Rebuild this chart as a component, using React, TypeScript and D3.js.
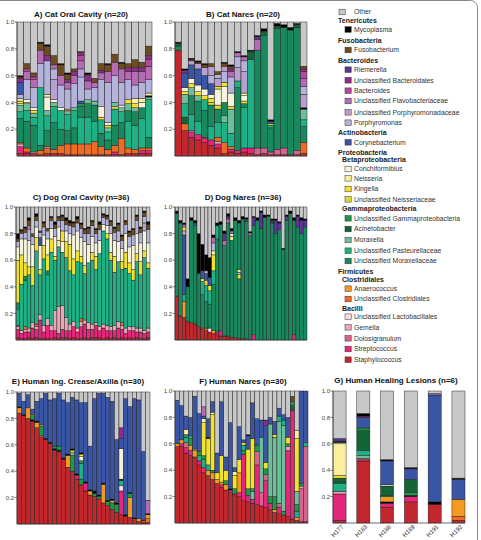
import React from "react";
import * as d3 from "d3";

type Raw = (string | number)[];

const COLOR: Record<string, string> = {
  ot: "#c8c8c8", my: "#000000", fu: "#6f4c1f", ri: "#5b3590", ub: "#8e2c8e", ba: "#b5479f",
  fl: "#b46db5", pp: "#b99fd0", po: "#b3b3dc", cy: "#3b55a5", co: "#f6f3dd", ne: "#fcef9c",
  ki: "#f2e22e", un: "#d3dc3a", ug: "#1a9a4a", ac: "#136437", mo: "#6dbf9a", up: "#1fb186",
  um: "#17895d", an: "#f49a20", uc: "#ee6b25", ul: "#f9dde6", ge: "#eea5b6", do: "#d6648e",
  sp: "#e6267a", st: "#c1272d",
};

// legend: h = header, s = sub-header, i = item
const legendRows: [string, string, string?][] = [
  ["i", "Other", "ot"], ["h", "Tenericutes"], ["i", "Mycoplasma", "my"],
  ["h", "Fusobacteria"], ["i", "Fusobacterium", "fu"],
  ["h", "Bacteroides"], ["i", "Riemerella", "ri"], ["i", "Unclassified Bacteroidales", "ub"],
  ["i", "Bacteroides", "ba"], ["i", "Unclassified Flavobacteriaceae", "fl"],
  ["i", "Unclassified Porphyromonadaceae", "pp"], ["i", "Porphyromonas", "po"],
  ["h", "Actinobacteria"], ["i", "Corynebacterium", "cy"],
  ["h", "Proteobacteria"], ["s", "Betaproteobacteria"], ["i", "Conchiformibius", "co"],
  ["i", "Neisseria", "ne"], ["i", "Kingella", "ki"], ["i", "Unclassified Neisseriaceae", "un"],
  ["s", "Gammaproteobacteria"], ["i", "Unclassified Gammaproteobacteria", "ug"],
  ["i", "Acinetobacter", "ac"], ["i", "Moraxella", "mo"], ["i", "Unclassified Pasteurellaceae", "up"],
  ["i", "Unclassified Moraxellaceae", "um"],
  ["h", "Firmicutes"], ["s", "Clostridiales"], ["i", "Anaerococcus", "an"],
  ["i", "Unclassified Clostridiales", "uc"], ["s", "Bacilli"],
  ["i", "Unclassified Lactobacillales", "ul"], ["i", "Gemella", "ge"], ["i", "Dolosigranulum", "do"],
  ["i", "Streptococcus", "sp"], ["i", "Staphylococcus", "st"],
];

const tickValues = [0.2, 0.4, 0.6, 0.8, 1.0];

// Each sample: taxon key / relative abundance pairs, bottom to top. Remainder = Other.
const catOral: Raw[] = [
  ["st",.02,"sp",.05,"ge",.02,"uc",.01,"um",.18,"up",.05,"mo",.05,"co",.01,"ki",.02,"ne",.02,"po",.03,"cy",.09,"ub",.03,"fu",.01,"my",.01],
  ["st",.02,"sp",.01,"uc",.03,"um",.2,"up",.08,"mo",.05,"ne",.01,"co",.02,"po",.15,"fl",.06,"ba",.02,"fu",.04],
  ["st",.02,"ge",.01,"um",.2,"up",.06,"mo",.03,"ki",.02,"co",.02,"po",.15,"fl",.06,"ba",.02,"fu",.03],
  ["st",.01,"uc",.03,"um",.04,"up",.43,"po",.18,"fl",.1,"fu",.05,"my",.01],
  ["st",.02,"uc",.04,"ge",.01,"um",.12,"up",.11,"mo",.04,"co",.1,"ne",.02,"po",.25,"ub",.04,"fu",.07,"my",.01],
  ["st",.02,"uc",.03,"um",.2,"up",.12,"mo",.03,"co",.02,"pp",.15,"po",.08,"fl",.03,"fu",.07],
  ["st",.02,"uc",.06,"um",.12,"up",.14,"co",.02,"po",.17,"fl",.07,"fu",.08,"my",.01],
  ["st",.01,"uc",.08,"um",.1,"up",.12,"mo",.02,"co",.01,"ki",.01,"po",.15,"fl",.05,"ub",.02,"fu",.04,"my",.01],
  ["st",.01,"uc",.08,"um",.12,"up",.13,"mo",.02,"po",.18,"fl",.06,"ub",.03,"fu",.02],
  ["st",.01,"uc",.08,"up",.2,"um",.08,"ug",.02,"cy",.02,"po",.18,"pp",.06,"fl",.06,"ba",.04,"ub",.02,"fu",.01],
  ["st",.01,"uc",.08,"up",.2,"um",.1,"mo",.03,"po",.08,"fl",.06,"ub",.04,"fu",.01,"my",.01],
  ["st",.01,"uc",.1,"up",.15,"um",.12,"mo",.03,"po",.1,"fl",.04,"fu",.03],
  ["st",.01,"uc",.06,"um",.1,"up",.1,"ki",.02,"co",.08,"po",.2,"fl",.05,"ub",.02,"fu",.05],
  ["st",.01,"uc",.04,"um",.07,"up",.06,"mo",.03,"ki",.02,"co",.02,"po",.3,"fl",.08,"fu",.05,"my",.01],
  ["st",.01,"sp",.02,"uc",.05,"um",.15,"up",.12,"un",.02,"mo",.03,"po",.2,"fl",.1,"fu",.06],
  ["st",.01,"uc",.12,"um",.12,"up",.08,"mo",.03,"co",.02,"po",.17,"fl",.1,"fu",.04,"my",.01],
  ["st",.02,"uc",.04,"up",.2,"um",.08,"mo",.05,"ki",.03,"po",.15,"fl",.06,"ub",.03,"fu",.03],
  ["st",.02,"uc",.03,"up",.18,"um",.1,"mo",.03,"ki",.03,"ne",.04,"po",.1,"fl",.1,"ub",.03,"fu",.06],
  ["st",.02,"sp",.02,"uc",.02,"up",.22,"um",.08,"co",.04,"ne",.03,"po",.12,"fl",.08,"ub",.03,"fu",.04],
  ["st",.02,"sp",.02,"uc",.02,"um",.08,"up",.28,"mo",.02,"my",.01,"ne",.02,"po",.1,"fl",.1,"ba",.05,"ub",.03,"fu",.07],
];

const catNares: Raw[] = [
  ["st",.79,"um",.03,"ac",.02,"my",.01],
  ["st",.19,"uc",.05,"ac",.05,"up",.1,"mo",.07,"ki",.02,"co",.03,"cy",.11,"ub",.02,"my",.01],
  ["st",.14,"sp",.04,"ge",.01,"up",.12,"um",.14,"mo",.06,"ki",.03,"co",.04,"cy",.1,"pp",.03,"fu",.01,"my",.01],
  ["st",.12,"sp",.04,"up",.1,"um",.15,"mo",.04,"ki",.03,"co",.05,"cy",.12,"pp",.04,"fu",.01,"my",.01],
  ["st",.1,"sp",.03,"uc",.01,"um",.2,"up",.08,"ki",.03,"co",.05,"cy",.1,"pp",.06,"fu",.02,"my",.01],
  ["st",.08,"sp",.04,"up",.1,"um",.16,"un",.02,"ki",.03,"co",.03,"cy",.08,"po",.06,"pp",.07,"fu",.02],
  ["st",.06,"sp",.03,"ge",.02,"uc",.03,"up",.11,"um",.1,"un",.03,"co",.12,"ki",.02,"pp",.06,"po",.03,"fu",.02],
  ["st",.02,"uc",.08,"up",.15,"mo",.05,"um",.1,"co",.12,"ki",.03,"po",.08,"pp",.04,"fu",.02,"my",.01],
  ["st",.03,"sp",.02,"uc",.02,"up",.1,"mo",.18,"ki",.02,"co",.1,"po",.12,"fl",.04,"ub",.02,"fu",.02,"my",.01],
  ["st",.02,"sp",.02,"um",.47,"up",.05,"pp",.1,"po",.08,"fl",.03,"my",.01],
  ["st",.03,"sp",.03,"up",.3,"um",.03,"ki",.02,"co",.04,"ne",.02,"pp",.16,"po",.08,"fl",.03,"my",.01],
  ["st",.02,"sp",.04,"up",.66,"ac",.06,"my",.01],
  ["st",.01,"do",.05,"um",.73,"fl",.08,"ri",.02,"my",.01],
  ["st",.02,"do",.04,"um",.84,"ac",.03,"my",.02],
  ["st",.01,"do",.02,"um",.18,"up",.02,"ki",.01,"cy",.02,"my",.01],
  ["st",.01,"do",.04,"um",.9,"ac",.02,"my",.02],
  ["st",.01,"do",.05,"um",.9,"my",.02],
  ["st",.01,"um",.93,"my",.02],
  ["st",.01,"do",.03,"um",.92,"ac",.02,"my",.01],
  ["st",.02,"uc",.08,"um",.12,"up",.05,"mo",.08,"my",.01,"pp",.1,"po",.06,"fl",.06,"ba",.05,"ub",.02,"fu",.02],
];

const dogOral: Raw[] = [
  ["st",.02,"sp",.06,"ge",.02,"uc",.01,"up",.12,"um",.05,"ki",.32,"co",.1,"po",.04,"fu",.02,"my",.04],
  ["st",.01,"sp",.04,"ge",.02,"up",.35,"ki",.22,"co",.12,"po",.04,"fu",.02,"my",.01],
  ["st",.01,"sp",.05,"ge",.02,"uc",.02,"up",.35,"um",.03,"ki",.1,"co",.18,"po",.05,"fu",.03,"my",.01],
  ["st",.02,"sp",.04,"ge",.03,"up",.4,"ki",.06,"co",.2,"po",.08,"fl",.03,"fu",.04,"my",.02],
  ["st",.01,"sp",.08,"ge",.04,"up",.28,"ki",.14,"co",.17,"po",.06,"fu",.02],
  ["st",.02,"sp",.06,"ge",.02,"uc",.02,"up",.55,"ki",.1,"co",.08,"po",.05,"fu",.03,"my",.02],
  ["st",.01,"sp",.14,"ge",.04,"up",.3,"ki",.04,"co",.18,"cy",.06,"po",.04,"fu",.01],
  ["st",.01,"sp",.05,"ge",.05,"up",.5,"ki",.1,"co",.08,"po",.06,"fu",.03,"my",.01],
  ["st",.01,"sp",.1,"ge",.05,"up",.33,"um",.03,"ki",.12,"co",.12,"po",.06,"fu",.02],
  ["st",.01,"sp",.06,"ge",.04,"up",.55,"ki",.1,"co",.08,"po",.06,"fu",.02,"my",.01],
  ["st",.02,"sp",.05,"ge",.15,"up",.38,"ki",.03,"co",.15,"po",.06,"fu",.03,"my",.02],
  ["st",.01,"sp",.04,"ge",.2,"up",.45,"ne",.05,"co",.1,"po",.05,"fu",.02,"my",.01],
  ["st",.02,"sp",.06,"ge",.18,"up",.4,"co",.08,"ki",.08,"po",.08,"fu",.03,"my",.01],
  ["st",.02,"sp",.05,"ge",.1,"up",.45,"ki",.12,"co",.08,"po",.05,"fu",.03,"my",.02],
  ["st",.01,"sp",.06,"ge",.05,"up",.4,"ki",.2,"co",.08,"po",.06,"fu",.02,"my",.02],
  ["st",.02,"sp",.08,"ge",.04,"up",.35,"ki",.12,"co",.18,"po",.06,"fu",.03,"my",.01],
  ["st",.01,"sp",.05,"ge",.03,"up",.5,"ki",.08,"co",.15,"po",.06,"fu",.03,"my",.02],
  ["st",.01,"sp",.09,"ge",.04,"uc",.02,"up",.42,"ki",.05,"co",.14,"po",.07,"fu",.03,"my",.01],
  ["st",.02,"sp",.1,"ge",.03,"up",.35,"ki",.06,"co",.18,"po",.06,"fu",.03,"my",.01],
  ["st",.01,"sp",.07,"ge",.05,"up",.45,"co",.14,"po",.08,"fu",.04,"my",.01],
  ["st",.02,"sp",.06,"ge",.04,"up",.48,"ki",.06,"co",.12,"po",.08,"fu",.03,"my",.01],
  ["st",.02,"sp",.09,"ge",.02,"up",.4,"ki",.1,"co",.1,"po",.07,"fu",.03,"my",.01],
  ["st",.02,"sp",.05,"ge",.03,"up",.55,"co",.1,"po",.08,"fu",.04,"my",.02],
  ["st",.01,"sp",.08,"ge",.03,"up",.7,"co",.05,"po",.05,"fu",.02,"my",.01],
  ["st",.02,"sp",.05,"ge",.04,"up",.65,"ki",.04,"co",.06,"po",.05,"fu",.02,"my",.01],
  ["st",.01,"sp",.06,"ge",.03,"up",.5,"ki",.06,"co",.14,"po",.06,"fu",.03,"my",.01],
  ["st",.02,"sp",.05,"ge",.04,"up",.4,"ki",.12,"co",.12,"po",.06,"fu",.03,"my",.01],
  ["st",.01,"sp",.08,"ge",.05,"up",.45,"co",.15,"po",.08,"fu",.05,"my",.01],
  ["st",.02,"sp",.06,"ge",.03,"uc",.02,"up",.4,"ki",.06,"co",.1,"po",.06,"fu",.03,"my",.01],
  ["st",.01,"sp",.04,"ge",.04,"up",.45,"ki",.12,"co",.14,"po",.07,"fu",.02,"my",.01],
  ["st",.02,"sp",.05,"ge",.03,"up",.4,"ki",.08,"co",.12,"po",.08,"fu",.03,"my",.01],
  ["st",.01,"sp",.06,"ge",.03,"up",.35,"ki",.08,"co",.18,"po",.08,"fu",.04,"my",.01],
  ["st",.02,"sp",.04,"ge",.03,"up",.5,"ki",.06,"co",.15,"po",.1,"fu",.03,"my",.01],
  ["st",.01,"sp",.05,"ge",.03,"up",.4,"ki",.1,"co",.14,"po",.08,"fu",.03,"my",.01],
  ["st",.01,"sp",.04,"ge",.02,"up",.55,"ki",.05,"co",.15,"pp",.06,"po",.05,"fu",.03,"my",.01],
  ["st",.02,"sp",.04,"ge",.03,"up",.45,"ki",.04,"co",.15,"po",.1,"fu",.04,"my",.02],
];

const dogNares: Raw[] = [
  ["st",.33,"um",.62,"my",.02],
  ["st",.18,"um",.7,"my",.02],
  ["st",.17,"an",.12,"up",.05,"cy",.45,"po",.03,"ki",.03,"fl",.02,"my",.01],
  ["st",.14,"um",.26,"my",.06],
  ["st",.13,"um",.77,"my",.02],
  ["st",.12,"um",.74,"cy",.02,"my",.02],
  ["st",.1,"um",.4,"my",.3],
  ["st",.08,"uc",.01,"um",.25,"up",.1,"ki",.02,"cy",.06,"my",.2],
  ["st",.07,"uc",.02,"um",.2,"up",.12,"un",.04,"cy",.05,"po",.02,"my",.12],
  ["st",.06,"ul",.03,"um",.18,"up",.1,"ki",.04,"cy",.06,"my",.15],
  ["st",.05,"an",.02,"um",.35,"up",.1,"ki",.12,"ne",.03,"po",.06,"fl",.04,"my",.02],
  ["st",.04,"sp",.02,"um",.7,"up",.1,"my",.02],
  ["st",.03,"sp",.04,"um",.8,"my",.02],
  ["st",.03,"um",.68,"fl",.04,"ri",.05,"my",.02],
  ["st",.03,"um",.85,"fl",.03,"ri",.02,"my",.02],
  ["st",.02,"um",.73,"ne",.03,"co",.02,"fl",.02,"my",.02],
  ["st",.02,"um",.88,"my",.02],
  ["st",.01,"um",.45,"ki",.03,"po",.02,"ne",.02,"um",.35,"my",.02],
  ["st",.01,"um",.9,"my",.02],
  ["st",.01,"um",.88,"ac",.02,"my",.01],
  ["st",.005,"um",.78,"fl",.02,"my",.01],
  ["sp",.04,"um",.82,"ri",.06,"my",.01],
  ["um",.9,"my",.02],
  ["um",.84,"ri",.12,"my",.01],
  ["um",.92,"my",.02],
  ["um",.93,"my",.01],
  ["um",.88,"ac",.02,"my",.01],
  ["um",.8,"ri",.1,"my",.01],
  ["um",.83,"ri",.05,"my",.01],
  ["um",.68,"my",.01],
  ["um",.9,"ri",.03,"my",.01],
  ["um",.95,"my",.02],
  ["sp",.04,"um",.86,"my",.02],
  ["um",.85,"ri",.08,"my",.01],
  ["um",.8,"ri",.1,"my",.02],
  ["um",.85,"ri",.05,"my",.01],
];

const humanCrease: Raw[] = [
  ["st",.84,"an",.04,"my",.01,"cy",.1],
  ["st",.82,"my",.01,"cy",.1],
  ["st",.8,"an",.08,"cy",.1],
  ["st",.78,"my",.01,"ug",.03,"ki",.01,"cy",.04],
  ["st",.73,"an",.04,"my",.01,"cy",.15],
  ["st",.66,"an",.01,"ug",.07,"ki",.01,"cy",.2],
  ["st",.64,"my",.01,"cy",.34],
  ["st",.61,"my",.01,"cy",.32],
  ["st",.56,"my",.01,"ug",.02,"cy",.36],
  ["st",.54,"sp",.01,"my",.01,"ug",.03,"cy",.4],
  ["st",.49,"my",.01,"cy",.44],
  ["st",.43,"an",.09,"my",.01,"cy",.39],
  ["st",.4,"ug",.12,"mo",.02,"ki",.02,"my",.01,"cy",.39],
  ["st",.34,"sp",.03,"my",.01,"cy",.56],
  ["st",.29,"sp",.01,"ug",.04,"up",.12,"ug",.02,"co",.03,"ki",.02,"my",.01,"cy",.38],
  ["st",.25,"sp",.06,"my",.01,"cy",.6],
  ["st",.22,"an",.03,"my",.01,"cy",.33],
  ["st",.21,"ug",.02,"my",.02,"cy",.7],
  ["st",.19,"ug",.02,"my",.01,"cy",.77],
  ["st",.16,"an",.14,"my",.01,"cy",.68],
  ["st",.14,"ug",.03,"my",.01,"cy",.78],
  ["st",.11,"ug",.05,"an",.02,"my",.01,"cy",.74],
  ["st",.09,"ug",.06,"my",.01,"cy",.48],
  ["st",.07,"sp",.18,"ul",.04,"up",.04,"my",.01,"co",.23,"cy",.08,"ub",.08],
  ["st",.06,"my",.01,"cy",.88],
  ["st",.05,"an",.15,"ug",.03,"my",.01,"cy",.65],
  ["st",.04,"my",.01,"cy",.9],
  ["st",.02,"an",.02,"cy",.9],
  ["st",.015,"an",.01,"my",.005,"cy",.52],
  ["st",.01,"uc",.03,"an",.03,"my",.01,"fl",.1],
];

const humanNares: Raw[] = [
  ["st",.58,"an",.02,"cy",.33],
  ["st",.58,"sp",.02,"an",.03,"cy",.26],
  ["st",.53,"sp",.04,"do",.04,"up",.04,"ug",.02,"ne",.04,"cy",.1],
  ["st",.51,"sp",.04,"an",.04,"ug",.05,"up",.02,"cy",.14],
  ["st",.5,"an",.05,"ki",.01,"cy",.4],
  ["st",.44,"sp",.03,"up",.04,"ug",.03,"cy",.29],
  ["st",.38,"sp",.04,"up",.06,"ug",.03,"ki",.25,"ne",.03,"cy",.02,"fl",.07],
  ["st",.36,"an",.04,"up",.04,"ki",.2,"my",.01,"cy",.14],
  ["st",.33,"an",.05,"ug",.02,"ki",.42,"ne",.02,"cy",.08],
  ["st",.3,"an",.03,"ki",.05,"cy",.15],
  ["st",.27,"sp",.02,"an",.02,"ki",.2,"cy",.41],
  ["st",.25,"an",.04,"ug",.03,"ki",.08,"cy",.1],
  ["st",.23,"sp",.02,"my",.01,"cy",.5],
  ["st",.22,"ug",.04,"ki",.1,"ne",.03,"cy",.03],
  ["st",.2,"sp",.03,"an",.15,"ki",.1,"cy",.25],
  ["st",.17,"sp",.35,"ug",.03,"up",.04,"ki",.02,"cy",.02],
  ["st",.16,"sp",.05,"ug",.05,"ki",.3,"cy",.1,"my",.01],
  ["st",.15,"sp",.03,"mo",.06,"ug",.02,"ki",.38,"cy",.27],
  ["st",.14,"sp",.3,"do",.1,"ug",.05,"cy",.2],
  ["st",.13,"do",.1,"mo",.42,"cy",.13],
  ["st",.12,"sp",.2,"do",.05,"ug",.04,"ki",.05,"cy",.28,"ub",.04],
  ["st",.1,"sp",.05,"ug",.05,"mo",.55,"cy",.05],
  ["st",.08,"an",.02,"ug",.1,"mo",.45,"ki",.02,"cy",.1],
  ["st",.07,"sp",.05,"do",.03,"mo",.62,"up",.04,"cy",.06],
  ["st",.06,"ug",.03,"mo",.65,"up",.04,"cy",.04],
  ["st",.05,"sp",.5,"ge",.03,"ug",.02,"ki",.05,"cy",.15],
  ["st",.03,"sp",.82,"ac",.04,"ug",.03,"fu",.04],
  ["st",.02,"an",.02,"up",.05,"ug",.05,"mo",.1,"ki",.4,"ne",.06],
  ["st",.01,"do",.25,"ge",.02,"ug",.02,"cy",.7],
  ["st",.01,"do",.57,"up",.03,"cy",.39],
];

const lesionNames = ["H177", "H183", "H188", "H189", "H191", "H192"];
const lesions: Raw[] = [
  ["st",.02,"sp",.2,"ge",.02,"up",.06,"ug",.01,"ac",.03,"ki",.02,"ne",.24,"co",.01,"my",.01,"ri",.02],
  ["st",.47,"sp",.01,"ge",.01,"mo",.02,"up",.04,"ac",.15,"ug",.02,"cy",.08,"ub",.01,"my",.02],
  ["st",.12,"sp",.03,"my",.01,"an",.04,"ug",.01,"ac",.07,"co",.01,"cy",.18,"my",.01],
  ["st",.16,"sp",.04,"my",.01,"ug",.02,"ac",.1,"cy",.08,"my",.01],
  ["st",.14,"my",.02,"cy",.81,"fl",.01],
  ["st",.02,"uc",.03,"an",.13,"cy",.15,"my",.01],
];

const FONT = "'Liberation Sans', Arial, Helvetica, sans-serif";

function toSegs(raw: Raw) {
  const segs: { k: string; y0: number; y1: number }[] = [];
  let acc = 0;
  for (let i = 0; i < raw.length; i += 2) {
    const v = raw[i + 1] as number;
    segs.push({ k: raw[i] as string, y0: acc, y1: acc + v });
    acc += v;
  }
  if (acc < 1) segs.push({ k: "ot", y0: acc, y1: 1 });
  return segs;
}

interface PanelProps {
  data: Raw[]; x0: number; x1: number; yTop: number; yBot: number;
  title: string; titleX: number; titleY: number; pad?: number; labels?: string[];
}

function Panel({ data, x0, x1, yTop, yBot, title, titleX, titleY, pad = 0, labels }: PanelProps) {
  const x = d3.scaleBand<number>().domain(d3.range(data.length)).range([x0, x1]).paddingInner(pad).paddingOuter(0);
  const y = d3.scaleLinear().domain([0, 1]).range([yBot, yTop]);
  return (
    <g>
      <text x={titleX} y={titleY} textAnchor="middle" fontFamily={FONT} fontWeight="bold" fontSize={8} fill="#111">{title}</text>
      {data.map((raw, i) => (
        <g key={i}>
          {toSegs(raw).map((s, j) => (
            <rect key={j} x={x(i)!} width={x.bandwidth()} y={y(Math.min(1, s.y1))} height={Math.max(0, y(s.y0) - y(Math.min(1, s.y1)))}
              fill={COLOR[s.k]} stroke="#1a1a1a" strokeWidth={0.45} />
          ))}
        </g>
      ))}
      <line x1={x0} x2={x0} y1={yTop} y2={yBot} stroke="#444" strokeWidth={0.8} />
      <line x1={x0} x2={x1} y1={yBot} y2={yBot} stroke="#444" strokeWidth={0.8} />
      {tickValues.map((t) => (
        <g key={t}>
          <line x1={x0 - 2.5} x2={x0} y1={y(t)} y2={y(t)} stroke="#444" strokeWidth={0.7} />
          <text x={x0 - 3} y={y(t)} dy="0.35em" textAnchor="end" fontFamily={FONT} fontSize={6} fill="#444">{t.toFixed(1)}</text>
        </g>
      ))}
      {labels && labels.map((l, i) => {
        const cx = x(i)! + x.bandwidth() / 2 + 3;
        const cy = yBot + 3;
        return (
          <text key={l} transform={`translate(${cx},${cy}) rotate(-45)`} textAnchor="end" dy="0.3em" fontFamily={FONT} fontSize={6} fill="#222">{l}</text>
        );
      })}
    </g>
  );
}

const legendY = [12, 21, 29.5, 40.5, 50, 61, 69.7, 80.3, 90.7, 101, 112.3, 122.7, 132.3, 142.3, 152.3, 159.5, 169, 178.3, 189, 199.3, 208.7, 218.3, 229, 240, 250.7, 261, 272, 280, 288.7, 299, 308.7, 316.7, 327.3, 338.3, 349, 359.7];

function Legend() {
  return (
    <g fontFamily={FONT}>
      {legendRows.map(([t, label, k], i) => {
        const yc = legendY[i];
        if (t === "h") return <text key={i} x={338} y={yc} dy="0.35em" fontSize={7} fontWeight="bold" fill="#222">{label}</text>;
        if (t === "s") return <text key={i} x={342} y={yc} dy="0.35em" fontSize={7} fontWeight="bold" fill="#222">{label}</text>;
        const sx = k === "ot" ? 339 : 345;
        return (
          <g key={i}>
            <rect x={sx} y={yc - 2.8} width={6.2} height={5.6} fill={COLOR[k!]} stroke="#333" strokeWidth={0.5} />
            <text x={354} y={yc} dy="0.35em" fontSize={6.8} fill="#333">{label}</text>
          </g>
        );
      })}
    </g>
  );
}

export default function App() {
  return (
    <svg width={481} height={540} style={{ position: "absolute", left: 0, top: 0, background: "#fff" }}>
      <rect x={-10} y={0.5} width={487.5} height={560} rx={7} fill="none" stroke="#888" strokeWidth={1} />
      <Panel data={catOral} x0={17} x1={152} yTop={22} yBot={156} title="A) Cat Oral Cavity (n=20)" titleX={81} titleY={16.5} />
      <Panel data={catNares} x0={175} x1={307} yTop={22} yBot={156} title="B) Cat Nares (n=20)" titleX={243} titleY={16.5} />
      <Panel data={dogOral} x0={16} x1={150} yTop={207} yBot={340} title="C) Dog Oral Cavity (n=36)" titleX={81} titleY={200} />
      <Panel data={dogNares} x0={175} x1={307} yTop={207} yBot={340} title="D) Dog Nares (n=36)" titleX={243} titleY={200} />
      <Panel data={humanCrease} x0={17} x1={150} yTop={392} yBot={524} title="E) Human Ing. Crease/Axilla (n=30)" titleX={78} titleY={384} />
      <Panel data={humanNares} x0={175} x1={308} yTop={391} yBot={523} title="F) Human Nares (n=30)" titleX={243} titleY={384} />
      <Panel data={lesions} x0={333} x1={465} yTop={391} yBot={523} pad={0.45} labels={lesionNames} title="G) Human Healing Lesions (n=6)" titleX={396} titleY={383} />
      <Legend />
    </svg>
  );
}
